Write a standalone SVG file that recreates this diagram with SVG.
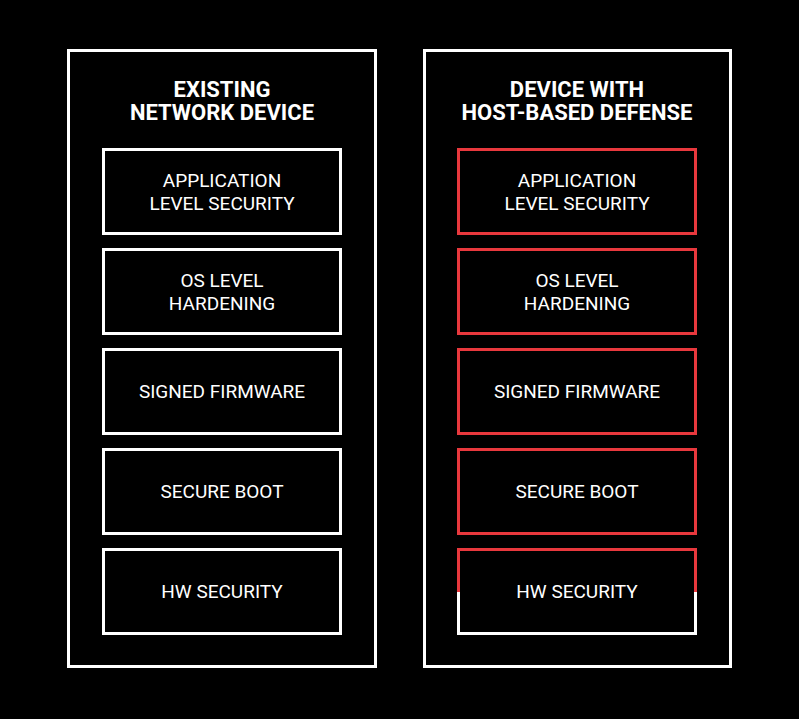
<svg xmlns="http://www.w3.org/2000/svg" width="799" height="719" viewBox="0 0 799 719">
<style>
.o{fill:none;stroke:#fff;stroke-width:3}
.w{fill:none;stroke:#fff;stroke-width:3}
.r{fill:none;stroke:#e8383d;stroke-width:3}
.t{fill:#fff;font-family:Roboto,"Liberation Sans",sans-serif;font-weight:bold;font-size:22px;text-anchor:middle}
.l{fill:#fff;font-family:Roboto,"Liberation Sans",sans-serif;font-size:19px;text-anchor:middle}
</style>
<rect width="799" height="719" fill="#000"/>
<g id="left">
<rect class="o" x="68.5" y="50.5" width="307" height="616"/>
<text class="t" x="222" y="97">EXISTING</text>
<text class="t" x="222" y="120">NETWORK DEVICE</text>
</g>
<g id="l1"><rect class="w" x="103.5" y="149.5" width="237" height="84"/><text class="l" x="222" y="187">APPLICATION</text><text class="l" x="222" y="210">LEVEL SECURITY</text></g>
<g id="l2"><rect class="w" x="103.5" y="249.5" width="237" height="84"/><text class="l" x="222" y="287">OS LEVEL</text><text class="l" x="222" y="310">HARDENING</text></g>
<g id="l3"><rect class="w" x="103.5" y="349.5" width="237" height="84"/><text class="l" x="222" y="398">SIGNED FIRMWARE</text></g>
<g id="l4"><rect class="w" x="103.5" y="449.5" width="237" height="84"/><text class="l" x="222" y="498">SECURE BOOT</text></g>
<g id="l5"><rect class="w" x="103.5" y="549.5" width="237" height="84"/><text class="l" x="222" y="598">HW SECURITY</text></g>
<g id="right">
<rect class="o" x="424.5" y="50.5" width="306" height="616"/>
<text class="t" x="577" y="97">DEVICE WITH</text>
<text class="t" x="577" y="120">HOST-BASED DEFENSE</text>
</g>
<g id="r1"><rect class="r" x="458.5" y="149.5" width="237" height="84"/><text class="l" x="577" y="187">APPLICATION</text><text class="l" x="577" y="210">LEVEL SECURITY</text></g>
<g id="r2"><rect class="r" x="458.5" y="249.5" width="237" height="84"/><text class="l" x="577" y="287">OS LEVEL</text><text class="l" x="577" y="310">HARDENING</text></g>
<g id="r3"><rect class="r" x="458.5" y="349.5" width="237" height="84"/><text class="l" x="577" y="398">SIGNED FIRMWARE</text></g>
<g id="r4"><rect class="r" x="458.5" y="449.5" width="237" height="84"/><text class="l" x="577" y="498">SECURE BOOT</text></g>
<g id="r5">
<path class="w" d="M458.5 592 V633.5 H695.5 V592"/>
<path class="r" d="M458.5 592 V549.5 H695.5 V592"/>
<text class="l" x="577" y="598">HW SECURITY</text></g>
<g id="connectors"/>
</svg>
